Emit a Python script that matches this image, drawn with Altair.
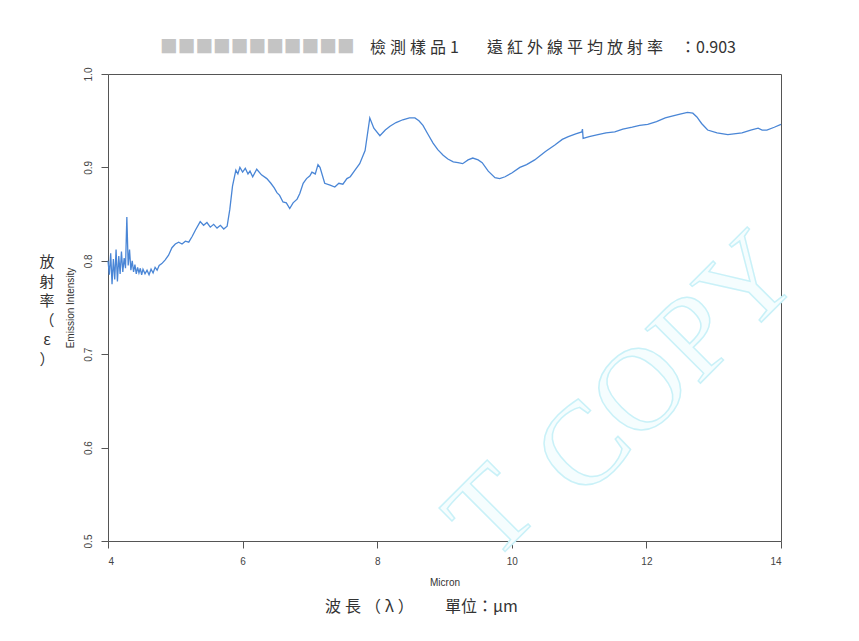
import altair as alt
import pandas as pd

wavelength = [4.00, 4.02, 4.04, 4.06, 4.08, 4.10, 4.12, 4.14, 4.16, 4.18, 4.20, 4.22, 4.24, 4.26, 4.28,
              4.30, 4.32, 4.34, 4.36, 4.38, 4.40, 4.42, 4.44, 4.46, 4.48, 4.50, 4.52, 4.55, 4.58, 4.61,
              4.64, 4.67, 4.70, 4.73, 4.76, 4.80, 4.85, 4.90, 4.95, 5.00, 5.05, 5.10, 5.15, 5.20, 5.25,
              5.30, 5.37, 5.42, 5.47, 5.52, 5.57, 5.62, 5.67, 5.72, 5.77, 5.81, 5.85, 5.90, 5.93, 5.96,
              6.00, 6.04, 6.08, 6.11, 6.15, 6.21, 6.28, 6.36, 6.42, 6.47, 6.51, 6.55, 6.60, 6.65, 6.70,
              6.75, 6.81, 6.85, 6.90, 6.95, 7.00, 7.03, 7.08, 7.12, 7.15, 7.22, 7.30, 7.37, 7.43, 7.49,
              7.55, 7.60, 7.67, 7.74, 7.82, 7.89, 7.95, 8.04, 8.12, 8.19, 8.28, 8.38, 8.48, 8.56, 8.62,
              8.68, 8.75, 8.83, 8.90, 8.98, 9.05, 9.13, 9.20, 9.27, 9.35, 9.42, 9.50, 9.56, 9.65, 9.75,
              9.82, 9.90, 10.00, 10.12, 10.22, 10.34, 10.50, 10.64, 10.75, 10.84, 10.95, 11.04, 11.05, 11.06,
              11.15, 11.28, 11.40, 11.53, 11.65, 11.79, 11.90, 12.02, 12.15, 12.28, 12.38, 12.50, 12.61, 12.69,
              12.75, 12.82, 12.91, 13.05, 13.21, 13.30, 13.42, 13.55, 13.66, 13.72, 13.79, 13.90, 14.00]

emissivity = [0.800, 0.785, 0.808, 0.775, 0.802, 0.780, 0.812, 0.778, 0.805, 0.786, 0.810, 0.788, 0.803, 0.792, 0.847,
              0.795, 0.812, 0.790, 0.800, 0.788, 0.796, 0.786, 0.793, 0.787, 0.792, 0.785, 0.791, 0.786, 0.790, 0.785,
              0.791, 0.787, 0.793, 0.790, 0.795, 0.797, 0.801, 0.806, 0.814, 0.818, 0.820, 0.818, 0.821, 0.820, 0.826,
              0.833, 0.842, 0.838, 0.841, 0.836, 0.839, 0.835, 0.838, 0.834, 0.837, 0.855, 0.880, 0.897, 0.893, 0.900,
              0.895, 0.899, 0.893, 0.896, 0.890, 0.898, 0.892, 0.888, 0.883, 0.878, 0.873, 0.870, 0.863, 0.862, 0.856,
              0.862, 0.866, 0.872, 0.883, 0.888, 0.891, 0.895, 0.893, 0.903, 0.900, 0.883, 0.881, 0.879, 0.883, 0.882,
              0.888, 0.890, 0.897, 0.904, 0.918, 0.953, 0.942, 0.934, 0.940, 0.944, 0.948, 0.951, 0.953, 0.953, 0.950,
              0.945, 0.936, 0.926, 0.919, 0.913, 0.909, 0.906, 0.905, 0.904, 0.908, 0.910, 0.908, 0.905, 0.896, 0.889,
              0.888, 0.890, 0.894, 0.900, 0.903, 0.908, 0.917, 0.924, 0.930, 0.933, 0.936, 0.938, 0.941, 0.931,
              0.933, 0.935, 0.937, 0.938, 0.941, 0.943, 0.945, 0.946, 0.949, 0.953, 0.955, 0.957, 0.959, 0.958,
              0.954, 0.947, 0.940, 0.937, 0.935, 0.936, 0.937, 0.940, 0.942, 0.940, 0.940, 0.943, 0.946]

x_ticks = [4, 6, 8, 10, 12, 14]
y_ticks = [0.5, 0.6, 0.7, 0.8, 0.9, 1.0]

sp = "\u2005"
title_part1 = sp.join("檢測樣品1")
title_part2 = sp.join("遠紅外線平均放射率")
title_part3 = "：0.903"
redacted_text = "■■■■■■■■■■■"
x_caption1 = sp.join("波長（λ）")
x_caption2 = "單位：μm"
y_caption = ["放", "射", "率", "（", "ε", "）"]
watermark_main = "COPY"
watermark_left = "T"

df = pd.DataFrame({"wavelength": wavelength, "emissivity": emissivity})

W, H = 673, 467
cjk = "Noto Sans CJK TC"


def wm(text, x, y, size):
    return alt.Chart(pd.DataFrame({"t": [text]})).mark_text(
        font="Liberation Serif", fontSize=size, fill="#f5fdfe", stroke="#c9f1f8", strokeWidth=1.5,
        align="center", baseline="middle", angle=315
    ).encode(x=alt.value(x), y=alt.value(y), text="t:N")


wm1 = wm(watermark_main, 560, 292, 118)
wm2 = wm(watermark_left, 385, 440, 118)

line = alt.Chart(df).mark_line(color="#4a86d6", strokeWidth=1.3, interpolate="linear").encode(
    x=alt.X("wavelength:Q",
            scale=alt.Scale(domain=[4, 14], nice=False, zero=False),
            axis=alt.Axis(values=x_ticks, format="d", title="Micron", grid=False,
                          tickSize=7, labelPadding=8, titlePadding=11,
                          labelFont="Liberation Sans", labelFontSize=10, labelColor="#444",
                          titleFont="Liberation Sans", titleFontSize=10, titleFontWeight="normal",
                          titleColor="#333", domain=False, tickColor="#555")),
    y=alt.Y("emissivity:Q",
            scale=alt.Scale(domain=[0.5, 1.0], nice=False, zero=False),
            axis=alt.Axis(values=y_ticks, format=".1f", title="Emission Intensity", grid=False,
                          tickSize=7, labelAngle=270, labelAlign="center", labelBaseline="bottom",
                          labelPadding=8, titlePadding=8,
                          labelFont="Liberation Sans", labelFontSize=10, labelColor="#444",
                          titleFont="Liberation Sans", titleFontSize=10, titleFontWeight="normal",
                          titleColor="#333", domain=False, tickColor="#555")),
)


def label(text, x, y, size=16, color="#333", align="left", font=cjk):
    return alt.Chart(pd.DataFrame({"t": [text]})).mark_text(
        font=font, fontSize=size, color=color, align=align, baseline="middle"
    ).encode(x=alt.value(x), y=alt.value(y), text="t:N")


t1 = label(title_part1, 262, -26)
t2 = label(title_part2, 379, -26)
t3 = label(title_part3, 572, -26)
redact = label(redacted_text, 52, -26, size=17.7, color="#c4c4c4")
xc1 = label(x_caption1, 217, 533)
xc2 = label(x_caption2, 337, 533)

ycap_mark = alt.Chart(pd.DataFrame({"k": [0]})).mark_text(
    font=cjk, fontSize=15, color="#333", align="center", baseline="middle",
    text=y_caption, lineHeight=19.5
).encode(x=alt.value(-61), y=alt.value(188))

chart = alt.layer(wm1, wm2, line, t1, t2, t3, redact, xc1, xc2, ycap_mark).properties(
    width=W, height=H,
    autosize=alt.AutoSizeParams(type="none"),
    padding={"left": 100, "top": 66, "right": 70, "bottom": 92},
    background="white",
).configure_view(stroke="#555", strokeWidth=1)

chart.save("out.html", embed_options={"renderer": "svg", "actions": False})
